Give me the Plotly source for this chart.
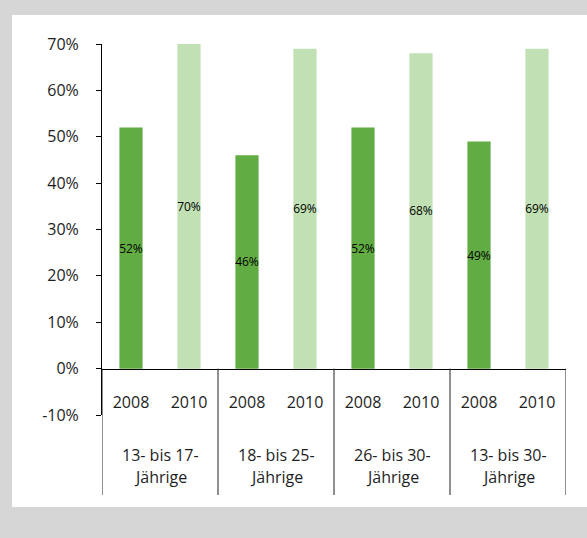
import plotly.graph_objects as go

# ---- data ----
groups_line1 = ["13- bis 17-", "18- bis 25-", "26- bis 30-", "13- bis 30-"]
groups_line2 = ["Jährige", "Jährige", "Jährige", "Jährige"]
years = ["2008", "2010"]
values_2008 = [52, 46, 52, 49]
values_2010 = [70, 69, 68, 69]
y_tickvals = [-10, 0, 10, 20, 30, 40, 50, 60, 70]
y_ticktext = ["-10%", "0%", "10%", "20%", "30%", "40%", "50%", "60%", "70%"]

DARK = "#62ad43"
LIGHT = "#c1e0b3"
FONT = "Open Sans"
TXT = "#1e1e1e"
FS = 16

n = len(values_2008)
x08 = [2 * i for i in range(n)]
x10 = [2 * i + 1 for i in range(n)]

fig = go.Figure()
fig.add_trace(go.Bar(
    x=x08, y=values_2008, width=0.4, marker=dict(color=DARK, line=dict(width=0)),
    text=[f"{v}%" for v in values_2008], textposition="inside",
    insidetextanchor="middle", textangle=0, constraintext="none",
    textfont=dict(family=FONT, size=12, color="#000000"), name="2008",
))
fig.add_trace(go.Bar(
    x=x10, y=values_2010, width=0.4, marker=dict(color=LIGHT, line=dict(width=0)),
    text=[f"{v}%" for v in values_2010], textposition="inside",
    insidetextanchor="middle", textangle=0, constraintext="none",
    textfont=dict(family=FONT, size=12, color="#000000"), name="2010",
))

W, H = 587, 538
left, right, top, bottom = 102, 21, 44, 43
ph = H - top - bottom
pw = W - left - right
ymin, ymax = -10, 70
# y-domain: -10% sits at pixel 415
ydom0 = ((H - bottom) - 415) / ph
zero_pos = ydom0 + (0 - ymin) / (ymax - ymin) * (1 - ydom0)

shapes = [
    # white panel
    dict(type="rect", xref="paper", yref="paper",
         x0=(12 - left) / pw, x1=(W + 5 - left) / pw,
         y0=((H - bottom) - 507) / ph, y1=((H - bottom) - 15) / ph,
         fillcolor="white", line=dict(width=0), layer="below"),
]
for k in range(n + 1):
    shapes.append(dict(type="line", xref="x", yref="paper",
                       x0=2 * k - 0.5, x1=2 * k - 0.5, y0=0, y1=zero_pos,
                       line=dict(color="#222222", width=1)))

annotations = []
for i in range(n):
    annotations.append(dict(x=2 * i + 0.5, xref="x", y=((H - bottom) - 455) / ph, yref="paper",
                            text=groups_line1[i], showarrow=False, xanchor="center", yanchor="middle",
                            font=dict(family=FONT, size=FS, color=TXT)))
    annotations.append(dict(x=2 * i + 0.5, xref="x", y=((H - bottom) - 477) / ph, yref="paper",
                            text=groups_line2[i], showarrow=False, xanchor="center", yanchor="middle",
                            font=dict(family=FONT, size=FS, color=TXT)))

fig.update_layout(
    width=W, height=H,
    margin=dict(l=left, r=right, t=top, b=bottom, pad=0),
    paper_bgcolor="#d6d6d6", plot_bgcolor="rgba(0,0,0,0)",
    barmode="overlay", showlegend=False,
    font=dict(family=FONT, size=FS, color=TXT),
    xaxis=dict(
        range=[-0.5, 2 * n - 0.5], anchor="free", position=zero_pos,
        tickvals=x08 + x10, ticktext=[years[0]] * n + [years[1]] * n,
        showline=True, linecolor="#000000", linewidth=1, ticks="",
        ticklabelstandoff=19, showgrid=False, zeroline=False,
        tickfont=dict(family=FONT, size=FS, color=TXT), fixedrange=True,
    ),
    yaxis=dict(
        range=[ymin, ymax], domain=[ydom0, 1],
        tickvals=y_tickvals, ticktext=y_ticktext,
        showline=True, linecolor="#000000", linewidth=1,
        ticks="outside", ticklen=5, tickcolor="#000000",
        ticklabelstandoff=14, showgrid=False, zeroline=False,
        tickfont=dict(family=FONT, size=FS, color=TXT), fixedrange=True,
    ),
    shapes=shapes, annotations=annotations,
)

fig.write_html("out.html", config={"displayModeBar": False},
               post_script="document.body.style.margin='0';document.body.style.overflow='hidden';")
